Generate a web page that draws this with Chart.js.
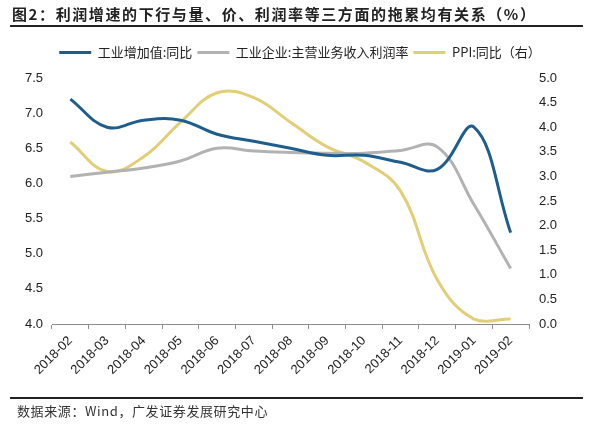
<!DOCTYPE html>
<html>
<head>
<meta charset="utf-8">
<script src="https://cdn.jsdelivr.net/npm/chart.js@4/dist/chart.umd.min.js"></script>
<style>
  body { margin: 0; background: #fff; }
  #wrap { position: relative; width: 600px; height: 425px; overflow: hidden; }
  #title {
    position: absolute; left: 12px; top: 3px;
    font: bold 15px "Noto Sans CJK SC", sans-serif; letter-spacing: 1.6px; color: #222;
  }
  .rule { position: absolute; left: 10px; width: 573px; height: 2px; background: #222; }
  #source {
    position: absolute; left: 17px; top: 401px;
    font: 13px "Noto Sans CJK SC", sans-serif; letter-spacing: 0.6px; color: #333;
  }
  #box { position: absolute; left: 0; top: 0; width: 600px; height: 425px; }
</style>
</head>
<body>
<div id="wrap">
  <div id="box"><canvas id="profitChart"></canvas></div>
  <div id="title">图2：利润增速的下行与量、价、利润率等三方面的拖累均有关系（%）</div>
  <div class="rule" style="top:25px"></div>
  <div class="rule" style="top:397px"></div>
  <div id="source">数据来源：Wind，广发证券发展研究中心</div>
</div>
<script>
const months = ['2018-02', '2018-03', '2018-04', '2018-05', '2018-06', '2018-07', '2018-08',
  '2018-09', '2018-10', '2018-11', '2018-12', '2019-01', '2019-02'];
const ivaYoY = [7.2, 6.8, 6.9, 6.9, 6.7, 6.6, 6.5, 6.4, 6.4, 6.3, 6.2, 6.8, 5.3];
const profitMargin = [6.1, 6.16, 6.22, 6.32, 6.5, 6.46, 6.44, 6.43, 6.43, 6.47, 6.52, 5.7, 4.79];
const ppiYoY = [3.7, 3.1, 3.4, 4.1, 4.7, 4.6, 4.1, 3.6, 3.3, 2.7, 0.9, 0.1, 0.1];

const blue = 'rgb(31, 93, 140)';
const gray = 'rgb(178, 178, 178)';
const gold = 'rgb(226, 206, 118)';

// push the plot area down a little below the legend
const legendGap = {
  id: 'legendGap',
  beforeInit(chart) {
    const fit = chart.legend.fit;
    chart.legend.fit = function () {
      fit.bind(chart.legend)();
      this.height += 9;
    };
  }
};

function line(label, data, color, axis) {
  return {
    label: label,
    data: data,
    yAxisID: axis,
    borderColor: color,
    backgroundColor: color,
    borderWidth: 3,
    pointRadius: 0,
    tension: 0.4,
    fill: false
  };
}

const ctx = document.querySelector('#profitChart');

const profitChart = new Chart(ctx, {
  type: 'line',
  data: {
    labels: months,
    datasets: [
      line('工业增加值:同比', ivaYoY, blue, 'y'),
      line('工业企业:主营业务收入利润率', profitMargin, gray, 'y1'),
      line('PPI:同比（右）', ppiYoY, gold, 'y2')
    ]
  },
  options: {
    responsive: true,
    maintainAspectRatio: false,
    animation: false,
    layout: { padding: { top: 41, bottom: 41, left: 0, right: 0 } },
    plugins: {
      tooltip: { enabled: false },
      legend: {
        position: 'top',
        labels: {
          boxWidth: 32,
          boxHeight: 3,
          padding: 5,
          color: '#222',
          font: { size: 13, family: '"Noto Sans CJK SC", sans-serif' },
          generateLabels(chart) {
            const items = Chart.defaults.plugins.legend.labels.generateLabels(chart);
            items.forEach(it => { it.lineWidth = 0; });
            return items;
          }
        }
      }
    },
    scales: {
      x: {
        offset: true,
        grid: { display: true, offset: true, drawOnChartArea: false, tickLength: 5, color: '#8c8c8c' },
        border: { display: true, color: '#8c8c8c', width: 1 },
        ticks: {
          minRotation: 45, maxRotation: 45, autoSkip: false, padding: 4,
          color: '#222', font: { size: 13, family: '"Liberation Sans", Arial, sans-serif' }
        },
        afterFit(a) { a.height = 60; }
      },
      y: {
        position: 'left',
        min: 4, max: 7.5,
        grid: { display: false, drawTicks: false },
        border: { display: false },
        ticks: {
          stepSize: 0.5, padding: 9, color: '#222',
          font: { size: 13, family: '"Liberation Sans", Arial, sans-serif' },
          callback: v => v.toFixed(1)
        },
        afterFit(a) { a.width = 52; }
      },
      y1: {
        position: 'left',
        display: false,
        min: 4, max: 7.5
      },
      y2: {
        position: 'right',
        min: 0, max: 5,
        grid: { display: false, drawTicks: false },
        border: { display: false },
        ticks: {
          stepSize: 0.5, padding: 10, color: '#222',
          font: { size: 13, family: '"Liberation Sans", Arial, sans-serif' },
          callback: v => v.toFixed(1)
        },
        afterFit(a) { a.width = 71; }
      }
    }
  },
  plugins: [legendGap]
});
</script>
</body>
</html>
